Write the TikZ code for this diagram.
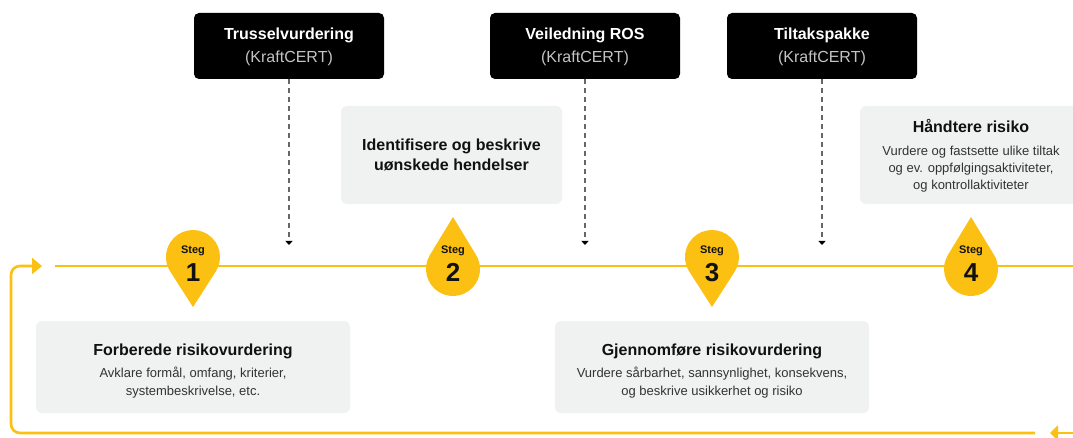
\documentclass[tikz,border=0pt]{standalone}
\usepackage{fontspec}
\setmainfont{Liberation Sans}
\usetikzlibrary{arrows.meta,calc}

\definecolor{pinyellow}{RGB}{251,192,18}
\definecolor{panelgray}{RGB}{240,241,241}
\definecolor{srcgray}{RGB}{196,196,196}
\definecolor{bodytext}{RGB}{51,51,51}
\definecolor{titletext}{RGB}{17,17,17}

\begin{document}
\begin{tikzpicture}[x=1pt,y=1pt,
  srcbox/.style={fill=black, rounded corners=5pt, minimum width=190pt,
    minimum height=66pt, inner sep=0pt},
  panel/.style={fill=panelgray, rounded corners=6pt, inner sep=0pt},
  srctitle/.style={anchor=base, text=white, font=\fontsize{16}{18}\selectfont\bfseries},
  srcsub/.style={anchor=base, text=srcgray, font=\fontsize{16}{18}\selectfont},
  ptitle/.style={anchor=base, text=titletext, font=\fontsize{16}{18}\selectfont\bfseries},
  psub/.style={anchor=base, text=bodytext, font=\fontsize{13}{15}\selectfont},
  steglabel/.style={anchor=base, text=titletext, font=\fontsize{11}{13}\selectfont\bfseries},
  stegnum/.style={anchor=base, text=titletext, font=\fontsize{26}{30}\selectfont\bfseries},
  flow/.style={draw=pinyellow, line width=2.6pt},
  feed/.style={draw=black!60, line width=1.2pt, dash pattern=on 5pt off 4pt,
    -{Triangle[length=4pt,width=7pt,color=black]}},
]
\clip (0,0) rectangle (1073,-438);

% source boxes (KraftCERT)
\node[srcbox] (tv) at (289,-46) {};
\node[srctitle] (tv-t) at (289,-40) {Trusselvurdering};
\node[srcsub]   (tv-s) at (289,-63) {(KraftCERT)};

\node[srcbox] (ros) at (585,-46) {};
\node[srctitle] (ros-t) at (585,-40) {Veiledning ROS};
\node[srcsub]   (ros-s) at (585,-63) {(KraftCERT)};

\node[srcbox] (tp) at (822,-46) {};
\node[srctitle] (tp-t) at (822,-40) {Tiltakspakke};
\node[srcsub]   (tp-s) at (822,-63) {(KraftCERT)};

% input arrows from the sources
\coordinate (tv-end)  at (289,-245);
\coordinate (ros-end) at (585,-245);
\coordinate (tp-end)  at (822,-245);
\draw[feed] (tv.south)  -- (tv-end);
\draw[feed] (ros.south) -- (ros-end);
\draw[feed] (tp.south)  -- (tp-end);

% description panels
\node[panel, minimum width=221pt, minimum height=98pt] (ident) at (451.5,-155) {};
\node[ptitle] (ident-1) at (451.5,-151) {Identifisere og beskrive};
\node[ptitle] (ident-2) at (451.5,-171) {uønskede hendelser};

\node[panel, minimum width=222pt, minimum height=98pt] (handle) at (971,-155) {};
\node[ptitle] (handle-t) at (971,-133) {Håndtere risiko};
\node[psub] (handle-1) at (971,-156) {Vurdere og fastsette ulike tiltak};
\node[psub] (handle-2) at (971,-173) {og ev. oppfølgingsaktiviteter,};
\node[psub] (handle-3) at (971,-190) {og kontrollaktiviteter};

\node[panel, minimum width=314pt, minimum height=92pt] (prep) at (193,-367) {};
\node[ptitle] (prep-t) at (193,-355) {Forberede risikovurdering};
\node[psub] (prep-1) at (193,-377) {Avklare formål, omfang, kriterier,};
\node[psub] (prep-2) at (193,-395) {systembeskrivelse, etc.};

\node[panel, minimum width=314pt, minimum height=92pt] (exec) at (712,-367) {};
\node[ptitle] (exec-t) at (712,-355) {Gjennomføre risikovurdering};
\node[psub] (exec-1) at (712,-377) {Vurdere sårbarhet, sannsynlighet, konsekvens,};
\node[psub] (exec-2) at (712,-395) {og beskrive usikkerhet og risiko};

% process line and return loop
\coordinate (flow-start) at (55,-266);
\coordinate (flow-end)   at (1073,-266);
\draw[flow] (flow-start) -- (flow-end);

\coordinate (ret-start) at (1035,-433);
\coordinate (ret-bl)    at (11,-433);
\coordinate (ret-tl)    at (11,-266);
\coordinate (ret-tip)   at (42,-266);
\draw[flow, rounded corners=9pt, -{Triangle[length=10pt,width=16pt]}]
  (ret-start) -- (ret-bl) -- (ret-tl) -- (ret-tip);

\coordinate (wrap-in)  at (1073,-433);
\coordinate (wrap-tip) at (1050,-433);
\draw[flow, -{Triangle[length=8pt,width=15pt]}] (wrap-in) -- (wrap-tip);

% step markers pointing down
\foreach \px/\stepno in {193/1, 712/3} {
  \fill[pinyellow] (\px,-307) -- ($(\px,-257)+(-32.7:27)$)
    arc[start angle=-32.7, end angle=212.7, radius=27] -- cycle;
  \node[steglabel] (steg\stepno) at (\px,-254) {Steg};
  \node[stegnum] (nr\stepno) at (\px,-281) {\stepno};
}
% step markers pointing up
\foreach \px/\stepno in {453/2, 971/4} {
  \fill[pinyellow] (\px,-217) -- ($(\px,-269)+(148.7:27)$)
    arc[start angle=148.7, end angle=391.3, radius=27] -- cycle;
  \node[steglabel] (steg\stepno) at (\px,-254) {Steg};
  \node[stegnum] (nr\stepno) at (\px,-281) {\stepno};
}
\end{tikzpicture}
\end{document}
